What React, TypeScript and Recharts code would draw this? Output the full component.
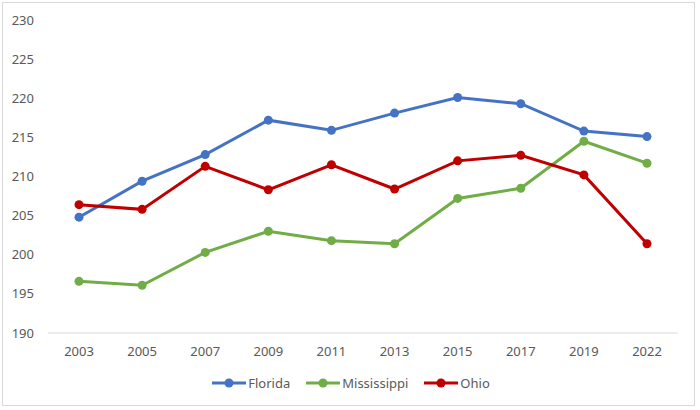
import { LineChart, Line, XAxis, YAxis } from "recharts";

const years = ["2003", "2005", "2007", "2009", "2011", "2013", "2015", "2017", "2019", "2022"];
const florida = [204.8, 209.4, 212.8, 217.2, 215.9, 218.1, 220.1, 219.3, 215.8, 215.1];
const mississippi = [196.6, 196.1, 200.3, 203.0, 201.8, 201.4, 207.2, 208.5, 214.5, 211.7];
const ohio = [206.4, 205.8, 211.3, 208.3, 211.5, 208.4, 212.0, 212.7, 210.2, 201.4];
const yTicks = [190, 195, 200, 205, 210, 215, 220, 225, 230];

const series = [
  { key: "Florida", color: "#4472C4" },
  { key: "Mississippi", color: "#70AD47" },
  { key: "Ohio", color: "#C00000" },
];

const data = years.map((year, i) => ({
  year,
  Florida: florida[i],
  Mississippi: mississippi[i],
  Ohio: ohio[i],
}));

const font = "'Noto Sans', 'Open Sans', sans-serif";

function ChartLegend() {
  return (
    <div
      style={{
        position: "absolute",
        left: 0,
        top: 374,
        width: 702,
        display: "flex",
        justifyContent: "center",
        gap: 16,
        fontFamily: font,
        fontSize: 13,
        color: "#595959",
      }}
    >
      {series.map((s) => (
        <div key={s.key} style={{ display: "flex", alignItems: "center" }}>
          <svg width={34} height={12} style={{ marginRight: 2 }}>
            <line x1={0} y1={6} x2={34} y2={6} stroke={s.color} strokeWidth={3} />
            <circle cx={17} cy={6} r={4.5} fill={s.color} />
          </svg>
          <span>{s.key}</span>
        </div>
      ))}
    </div>
  );
}

export default function App() {
  return (
    <div style={{ position: "absolute", left: 0, top: 0, width: 700, height: 410, background: "#fff" }}>
      <div
        style={{
          position: "absolute",
          left: 2,
          top: 2,
          width: 693,
          height: 404,
          border: "1px solid #d9d9d9",
          boxSizing: "border-box",
        }}
      />
      <LineChart width={700} height={410} data={data} margin={{ top: 20, right: 22, bottom: 47, left: 0 }}>
        <XAxis
          dataKey="year"
          height={30}
          padding={{ left: 31, right: 31 }}
          axisLine={{ stroke: "#d9d9d9" }}
          tickLine={false}
          tickMargin={8}
          tick={{ fill: "#595959", fontSize: 13, fontFamily: font }}
        />
        <YAxis
          width={48}
          domain={[190, 230]}
          ticks={yTicks}
          axisLine={false}
          tickLine={false}
          tickMargin={8}
          tick={{ fill: "#595959", fontSize: 13, fontFamily: font }}
        />
        {series.map((s) => (
          <Line
            key={s.key}
            dataKey={s.key}
            stroke={s.color}
            strokeWidth={3}
            dot={{ r: 4.5, fill: s.color, stroke: s.color, strokeWidth: 0 }}
            activeDot={false}
            isAnimationActive={false}
          />
        ))}
      </LineChart>
      <ChartLegend />
    </div>
  );
}
